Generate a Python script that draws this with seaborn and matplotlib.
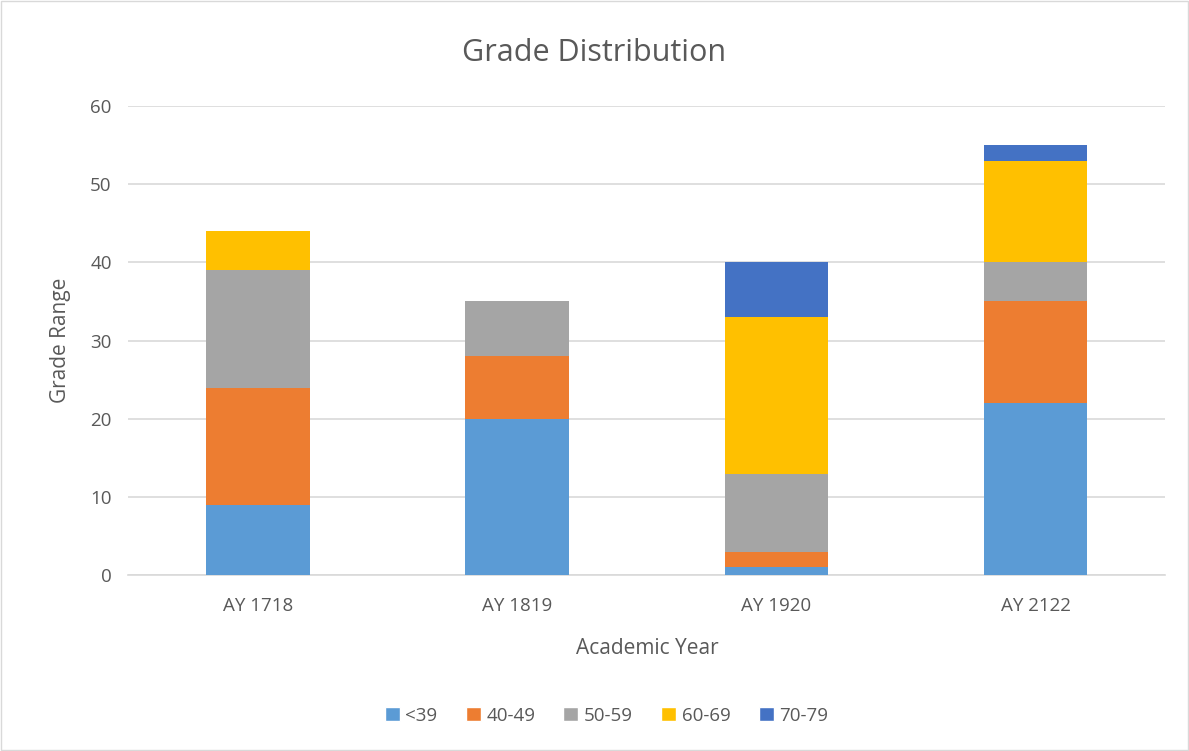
import pandas as pd
import matplotlib.pyplot as plt
from matplotlib.patches import Patch, Rectangle
import seaborn as sns
import numpy as np

# dados
years = ['AY 1718', 'AY 1819', 'AY 1920', 'AY 2122']
grades = ['<39', '40-49', '50-59', '60-69', '70-79']
lt39 = [9, 20, 1, 22]
g40_49 = [15, 8, 2, 13]
g50_59 = [15, 7, 10, 5]
g60_69 = [5, 0, 20, 13]
g70_79 = [0, 0, 7, 2]
colors = ['#5B9BD5', '#ED7D31', '#A5A5A5', '#FFC000', '#4472C4']

sns.set_style("white")
plt.rcParams['font.family'] = ['Open Sans', 'DejaVu Sans']
txt = '#595959'

df = pd.DataFrame({'year': years, '<39': lt39, '40-49': g40_49, '50-59': g50_59,
                   '60-69': g60_69, '70-79': g70_79})
cum = df[grades].cumsum(axis=1)

fig = plt.figure(figsize=(11.89, 7.51), dpi=100)
ax = fig.add_axes([0.108, 0.234, 0.872, 0.625])

# empilhado: desenha do topo para a base
for g, c in reversed(list(zip(grades, colors))):
    sns.barplot(x=df['year'], y=cum[g], color=c, width=0.4, ax=ax,
                saturation=1, linewidth=0, zorder=3)

ax.set_ylim(0, 60)
ax.set_yticks(np.arange(0, 61, 10))
ax.set_xlim(-0.5, 3.5)
ax.grid(axis='y', color='#D9D9D9', linewidth=1.2, zorder=0)
for s in ['top', 'right', 'left']:
    ax.spines[s].set_visible(False)
ax.spines['bottom'].set_color('#D9D9D9')
ax.spines['bottom'].set_linewidth(1.2)
ax.tick_params(axis='y', length=0, labelsize=13.5, labelcolor=txt, pad=12)
ax.tick_params(axis='x', length=0, labelsize=13.5, labelcolor=txt, pad=16)
ax.set_xlabel('Academic Year', fontsize=15, color=txt, labelpad=16)
ax.set_ylabel('Grade Range', fontsize=15, color=txt, labelpad=14)
fig.text(0.5, 0.93, 'Grade Distribution', ha='center', va='center', fontsize=22, color=txt)

handles = [Patch(facecolor=c, label=g) for g, c in zip(grades, colors)]
fig.legend(handles=handles, loc='center', bbox_to_anchor=(0.51, 0.047), ncol=5,
           frameon=False, fontsize=13.5, labelcolor=txt, handlelength=0.8,
           handleheight=0.8, handletextpad=0.3, columnspacing=1.5)

fig.patches.append(Rectangle((0.001, 0.001), 0.998, 0.998, transform=fig.transFigure,
                             fill=False, edgecolor='#D9D9D9', linewidth=1))
fig.savefig('out.png', dpi=100)
